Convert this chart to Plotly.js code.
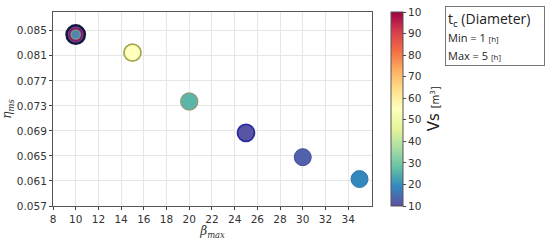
<!DOCTYPE html>
<html>
<head>
<meta charset="utf-8">
<script src="https://cdn.plot.ly/plotly-3.0.1.min.js"></script>
<style>body{margin:0;background:#fff}</style>
</head>
<body>
<div id="myDiv" style="width:550px;height:240px"></div>
<script>
// beta_max, eta_ms, Vs [m3], tc [h]
let betaMax = [10, 15, 20, 25, 30, 35];
let etaMs = [0.0844, 0.0815, 0.0737, 0.0687, 0.0648, 0.0613];
let vs = [10, 55, 26, 11, 13, 19];
let tc = [5.4, 5, 5, 5, 5, 5];

// overlapping points drawn at beta = 10 (smaller tc on top)
let betaOver = [10, 10, 10];
let etaOver = [0.0844, 0.0844, 0.0844];
let vsOver = [100, 30, 18];
let tcOver = [4.2, 3.1, 2.2];

let yTicks = [0.057, 0.061, 0.065, 0.069, 0.073, 0.077, 0.081, 0.085];
let cbTicks = [10, 20, 30, 40, 50, 60, 70, 80, 90, 100];
let cbText = ['10', '20', '30', '40', '50', '60', '70', '80', '90', '10'];

let spectral = [
    [0, '#5e4fa2'], [0.1, '#3288bd'], [0.2, '#66c2a5'], [0.3, '#abdda4'],
    [0.4, '#e6f598'], [0.5, '#ffffbf'], [0.6, '#fee08b'], [0.7, '#fdae61'],
    [0.8, '#f46d43'], [0.9, '#d53e4f'], [1, '#9e0142']
];

let font = {family: 'DejaVu Sans', size: 10.5, color: '#333'};

let trace1 = {
    mode: 'markers',
    type: 'scatter',
    x: betaMax,
    y: etaMs,
    marker: {
        size: tc.map(v => v * 3.4),
        color: vs,
        colorscale: spectral,
        cmin: 10,
        cmax: 100,
        opacity: 1,
        line: {
            width: [2.5, 1.8, 1.5, 1.8, 1, 1],
            color: ['#16163e', '#a8a850', '#8f9f7a', '#2a2a9a', '#4c4c96', '#2f78b0']
        },
        colorbar: {
            x: 1.06,
            xanchor: 'left',
            xpad: 0,
            y: 0.5,
            len: 1,
            ypad: 0,
            thickness: 12,
            outlinewidth: 1,
            outlinecolor: '#555',
            ticks: 'outside',
            ticklen: 3,
            tickvals: cbTicks,
            ticktext: cbText,
            tickfont: font
        }
    },
    showlegend: false
};

let trace2 = {
    mode: 'markers',
    type: 'scatter',
    x: betaOver,
    y: etaOver,
    marker: {
        size: tcOver.map(v => v * 3.4),
        color: vsOver,
        colorscale: spectral,
        cmin: 10,
        cmax: 100,
        showscale: false,
        line: {width: 0}
    },
    showlegend: false
};

let layout_1 = {
    width: 550,
    height: 240,
    margin: {l: 53, r: 178, t: 12, b: 34},
    paper_bgcolor: '#fff',
    plot_bgcolor: '#fff',
    font: font,
    xaxis: {
        range: [8, 36.1],
        tickvals: [8, 10, 12, 14, 16, 18, 20, 22, 24, 26, 28, 30, 32, 34],
        ticks: 'outside',
        ticklen: 3,
        showgrid: true,
        gridcolor: '#e6e6e6',
        showline: true,
        linecolor: '#555',
        linewidth: 1,
        mirror: true,
        zeroline: false,
        title: {text: '<i>β<sub>max</sub></i>', font: {family: 'DejaVu Serif', size: 12, color: '#333'}, standoff: 2}
    },
    yaxis: {
        range: [0.057, 0.088],
        tickvals: yTicks,
        tickformat: '.3f',
        ticks: 'outside',
        ticklen: 3,
        showgrid: true,
        gridcolor: '#e6e6e6',
        showline: true,
        linecolor: '#555',
        linewidth: 1,
        mirror: true,
        zeroline: false,
        title: {text: '<i>η<sub>ms</sub></i>', font: {family: 'DejaVu Serif', size: 12, color: '#333'}, standoff: 6}
    },
    annotations: [
        {
            xref: 'paper', yref: 'paper',
            x: 1.195, y: 0.5,
            xanchor: 'center', yanchor: 'middle',
            textangle: -90,
            showarrow: false,
            text: 'Vs <span style="font-size:10px">[m<sup>3</sup>]</span>',
            font: {family: 'DejaVu Sans', size: 15, color: '#222'}
        },
        {
            xref: 'paper', yref: 'paper',
            x: 1.229, y: 1.031,
            xanchor: 'left', yanchor: 'top',
            showarrow: false,
            align: 'left',
            width: 94,
            bordercolor: '#777',
            borderwidth: 1,
            borderpad: 2,
            text: 't<sub>c</sub> (Diameter)<br><span style="font-size:11px">Min = 1 <span style="font-size:8px">[h]</span></span><br><span style="font-size:11px">Max = 5 <span style="font-size:8px">[h]</span></span>',
            font: {family: 'Open Sans', size: 14, color: '#222'}
        }
    ]
};

Plotly.newPlot("myDiv", [trace1, trace2], layout_1, {displayModeBar: false});
</script>
</body>
</html>
